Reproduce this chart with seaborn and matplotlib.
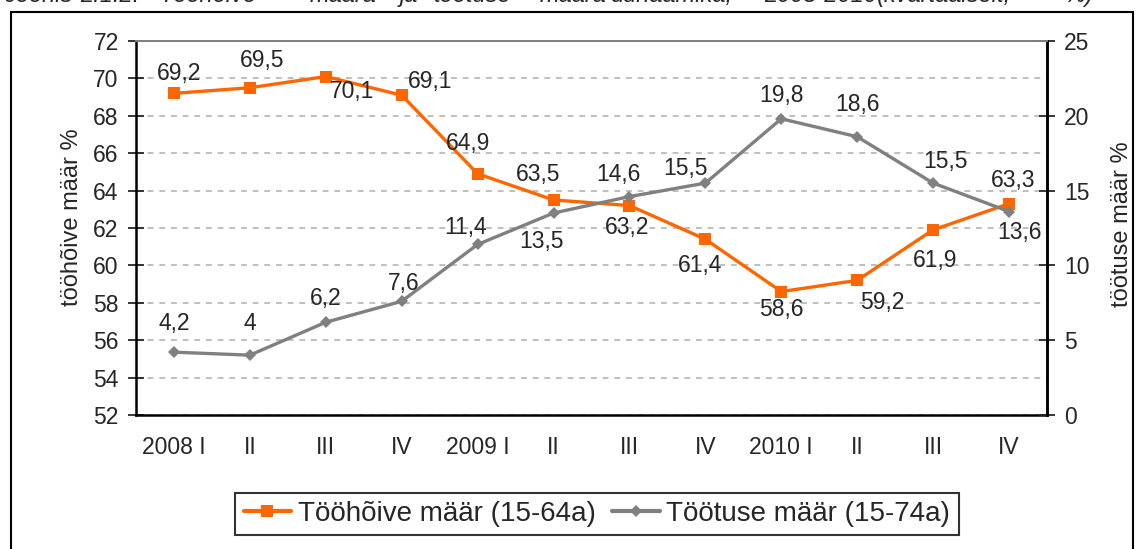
import matplotlib
matplotlib.use("Agg")
import matplotlib.pyplot as plt
import seaborn as sns
import numpy as np
import pandas as pd
from matplotlib.lines import Line2D
from matplotlib.patches import Rectangle

# ---- data ----
quarters = ["2008 I", "II", "III", "IV", "2009 I", "II", "III", "IV", "2010 I", "II", "III", "IV"]
employment = [69.2, 69.5, 70.1, 69.1, 64.9, 63.5, 63.2, 61.4, 58.6, 59.2, 61.9, 63.3]
unemployment = [4.2, 4.0, 6.2, 7.6, 11.4, 13.5, 14.6, 15.5, 19.8, 18.6, 15.5, 13.6]
employment_labels = ["69,2", "69,5", "70,1", "69,1", "64,9", "63,5", "63,2", "61,4", "58,6", "59,2", "61,9", "63,3"]
unemployment_labels = ["4,2", "4", "6,2", "7,6", "11,4", "13,5", "14,6", "15,5", "19,8", "18,6", "15,5", "13,6"]
series_names = ["Tööhõive määr (15-64a)", "Töötuse määr (15-74a)"]
left_label = "tööhõive määr %"
right_label = "töötuse määr %"
title_words = ["Joonis", "2.1.2.", "Tööhõive", "määra", "ja", "töötuse", "määra",
               "dünaamika,", "2008-2010", "(kvartaalselt,", "%)"]

# label offsets (pixels, dx, dy-up)
emp_offsets = [(5, 20), (12, 27), (26, -15), (28, 14), (-10, 30), (-15, 25),
               (-2, -22), (-5, -26), (0, -18), (25, -22), (2, -31), (4, 23)]
unemp_offsets = [(0, 29), (0, 32), (0, 24), (2, 18), (-12, 17), (-12, -28),
                 (-11, 22), (-20, 15), (0, 23), (0, 32), (12, 22), (10, -21)]
title_x = [4, 80, 160, 310, 400, 434, 540, 610, 764, 877, 1064]

ORANGE = "#FF6600"
GRAY = "#808080"
FS = 16.5

sns.set_style("white")
plt.rcParams["font.family"] = ["Liberation Sans", "DejaVu Sans"]

W, H = 1137, 549
fig = plt.figure(figsize=(W / 100, H / 100), dpi=100)

# outer frame
fig.patches.append(Rectangle((11 / W, -0.05), (1133 - 11) / W, (H - 12) / H + 0.05,
                             transform=fig.transFigure, fill=False,
                             edgecolor="black", lw=1.5, zorder=0))

# title (cut off at the top, as in the source)
for wx, w in zip(title_x, title_words):
    fig.text(wx / W, 1 - 2 / H, w, fontsize=17, style="italic", ha="left",
             va="baseline")

ax = fig.add_axes([136 / W, 1 - 415 / H, (1047 - 136) / W, (415 - 41) / H])
ax2 = ax.twinx()

df = pd.DataFrame({"x": np.arange(len(quarters)), "emp": employment, "unemp": unemployment})

sns.lineplot(data=df, x="x", y="emp", ax=ax, color=ORANGE, lw=2.4, marker="s",
             markersize=8, markeredgewidth=0, zorder=3)
sns.lineplot(data=df, x="x", y="unemp", ax=ax2, color=GRAY, lw=2.4, marker="D",
             markersize=6, markeredgewidth=0, zorder=3)

ax.set_xlim(-0.5, len(quarters) - 0.5)
ax.set_ylim(52, 72)
ax2.set_ylim(0, 25)
ax.set_yticks(np.arange(52, 73, 2))
ax2.set_yticks(np.arange(0, 26, 5))
ax.set_xticks(np.arange(len(quarters)))
ax.set_xticklabels(quarters)
ax.set_xticks(np.arange(-0.5, len(quarters)), minor=True)

ax.set_xlabel("")
ax.set_ylabel(left_label, fontsize=17)
ax2.set_ylabel(right_label, fontsize=17)
for lab in (ax.yaxis.label, ax2.yaxis.label):
    lab.set_ha("center")
    lab.set_va("center")
ax.yaxis.set_label_coords((72 - 136) / 911, 0.53)
ax2.yaxis.set_label_coords((1122 - 136) / 911, 0.51)

ax.tick_params(axis="x", which="major", length=0, pad=15, labelsize=FS)
ax.tick_params(axis="x", which="minor", length=11, width=1.3, direction="inout", color="black")
ax.tick_params(axis="y", which="major", length=11, width=1.3, direction="inout", pad=7,
               labelsize=FS, left=True)
ax2.tick_params(axis="y", which="major", length=11, width=1.3, direction="inout", pad=7,
                labelsize=FS, right=True)

ax.yaxis.grid(True, linestyle=(0, (3, 3)), color="#BFBFBF", lw=1.4)
ax.set_axisbelow(True)

for a in (ax, ax2):
    for s in ("left", "right", "bottom"):
        a.spines[s].set_color("black")
        a.spines[s].set_linewidth(1.8)
    a.spines["top"].set_color(GRAY)
    a.spines["top"].set_linewidth(1.4)
ax2.spines["left"].set_visible(False)
ax2.spines["bottom"].set_visible(False)

# data labels
for i, (v, lab) in enumerate(zip(employment, employment_labels)):
    dx, dy = emp_offsets[i]
    ax.annotate(lab, (i, v), xytext=(dx, dy), textcoords="offset pixels",
                ha="center", va="center", fontsize=FS)
for i, (v, lab) in enumerate(zip(unemployment, unemployment_labels)):
    dx, dy = unemp_offsets[i]
    ax2.annotate(lab, (i, v), xytext=(dx, dy), textcoords="offset pixels",
                 ha="center", va="center", fontsize=FS)

handles = [Line2D([], [], color=ORANGE, lw=3, marker="s", markersize=9, markeredgewidth=0),
           Line2D([], [], color=GRAY, lw=3, marker="D", markersize=6, markeredgewidth=0)]
leg = fig.legend(handles, series_names, loc="center", bbox_to_anchor=(597 / W, 1 - 514 / H),
                 ncol=2, fontsize=20, frameon=True, fancybox=False, edgecolor="black",
                 handlelength=1.7, handletextpad=0.25, columnspacing=0.6, borderpad=0.3,
                 borderaxespad=0)
leg.get_frame().set_linewidth(1.5)

fig.savefig("out.png", dpi=100)
